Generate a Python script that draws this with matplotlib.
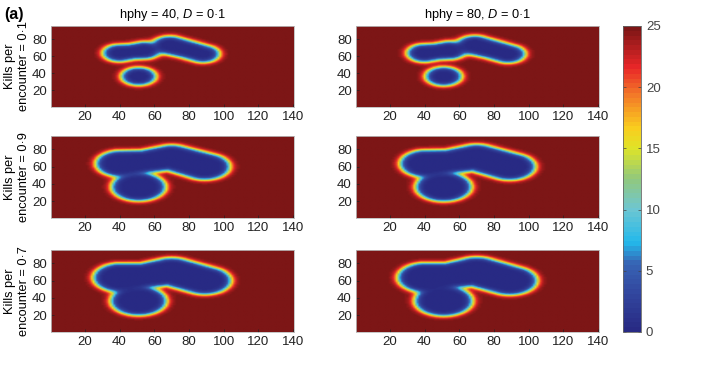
import numpy as np
import matplotlib
matplotlib.use("Agg")
import matplotlib.pyplot as plt
from matplotlib.colors import LinearSegmentedColormap

plt.rcParams['font.family'] = ['Liberation Sans', 'DejaVu Sans']
plt.rcParams['mathtext.fontset'] = 'custom'
plt.rcParams['mathtext.it'] = 'Liberation Sans:italic'
plt.rcParams['mathtext.rm'] = 'Liberation Sans'

# grid of the model domain
nx, ny = 140, 95
vmax = 25

col_titles = ['hphy = 40, $\\it{D}$ = 0·1', 'hphy = 80, $\\it{D}$ = 0·1']
row_labels = ['Kills per\nencounter = 0·1', 'Kills per\nencounter = 0·9', 'Kills per\nencounter = 0·7']
xticks = [20, 40, 60, 80, 100, 120, 140]
yticks = [20, 40, 60, 80]
cbar_ticks = [0, 5, 10, 15, 20, 25]

# depleted patches: chains of centre points, one radius per point
# row 1 (kills 0.1): three separate patches
r1_chains = [[(40, 63), (47, 64.5), (54, 66)],
             [(69, 72), (79, 67), (88, 62)],
             [(51, 36)]]
r1_radii_left = [[9.4, 8.6, 9.4], [10.0, 9.5, 9.4], [9.8]]
r1_radii_right = [[9.9, 9.1, 9.9], [10.5, 10.0, 9.9], [10.3]]

# rows 2 and 3 (kills 0.9, 0.7): one long patch above one round patch
big_chains = [[(41, 63.5), (55, 66), (70, 70.5), (89, 60)],
              [(51, 36.5)]]
r2_radii_left = [[14.5, 12.6, 13.8, 14.5], [15.5]]
r2_radii_right = [[15.0, 13.1, 14.5, 14.8], [16.0]]
r3_radii_left = [[16.0, 13.6, 15.2, 15.2], [16.0]]
r3_radii_right = [[16.4, 14.0, 16.0, 15.8], [16.6]]

panels = [
    [(r1_chains, r1_radii_left), (r1_chains, r1_radii_right)],
    [(big_chains, r2_radii_left), (big_chains, r2_radii_right)],
    [(big_chains, r3_radii_left), (big_chains, r3_radii_right)],
]

edge_width = 1.35
y_stretch = 1.05

X, Y = np.meshgrid(np.arange(1, nx + 1, dtype=float), np.arange(1, ny + 1, dtype=float))


def seg_dist(a, b, ra, rb):
    ax_, ay_ = a
    bx_, by_ = b
    dx, dy = bx_ - ax_, (by_ - ay_) / y_stretch
    Yp = (Y - ay_) / y_stretch
    L2 = dx * dx + dy * dy
    if L2 == 0:
        return np.hypot(X - ax_, Yp) - ra
    t = np.clip(((X - ax_) * dx + Yp * dy) / L2, 0, 1)
    return np.hypot(X - (ax_ + t * dx), Yp - t * dy) - (ra + t * (rb - ra))


def field(chains, radii):
    z = np.ones_like(X)
    for pts, rs in zip(chains, radii):
        if len(pts) == 1:
            s = seg_dist(pts[0], pts[0], rs[0], rs[0])
        else:
            s = np.min([seg_dist(pts[i], pts[i + 1], rs[i], rs[i + 1])
                        for i in range(len(pts) - 1)], axis=0)
        z *= 1 / (1 + np.exp(-s / edge_width))
    return vmax * z


cm_colors = [
    (0.00, (40, 42, 132)),
    (0.12, (50, 70, 158)),
    (0.22, (55, 100, 180)),
    (0.29, (35, 185, 235)),
    (0.40, (110, 198, 210)),
    (0.50, (145, 200, 125)),
    (0.60, (222, 228, 40)),
    (0.67, (250, 205, 30)),
    (0.78, (243, 120, 40)),
    (0.87, (232, 38, 40)),
    (1.00, (125, 22, 22)),
]
cmap = LinearSegmentedColormap.from_list(
    'wjet', [(p, tuple(c / 255 for c in rgb)) for p, rgb in cm_colors], N=64)

fig = plt.figure(figsize=(7.08, 3.76), dpi=100)

W, H = 708, 376
col_x = [51, 356]
ax_w = 243
rows_y = [(26, 107), (136, 218), (250, 332)]

for i in range(3):
    for j in range(2):
        top, bot = rows_y[i]
        ax = fig.add_axes([col_x[j] / W, 1 - bot / H, ax_w / W, (bot - top) / H])
        chains, radii = panels[i][j]
        Z = field(chains, radii)
        im = ax.imshow(Z, origin='lower', extent=(0.5, nx + 0.5, 0.5, ny + 0.5),
                       aspect='auto', cmap=cmap, vmin=0, vmax=vmax, interpolation='bilinear')
        ax.set_xticks(xticks)
        ax.set_yticks(yticks)
        ax.tick_params(direction='in', length=2, width=0.5, labelsize=9.5, pad=3, colors='#222222')
        for sp in ax.spines.values():
            sp.set_color('#bbbbbb')
            sp.set_linewidth(0.6)
        if i == 0:
            ax.set_title(col_titles[j], fontsize=9.2, pad=6)
        if j == 0:
            fig.text(17 / W, 1 - ((top + bot) / 2) / H, row_labels[i], rotation=90,
                     ha='center', va='center', fontsize=9.2, multialignment='center')

cax = fig.add_axes([623 / W, 1 - 332 / H, 18 / W, 306 / H])
cb = fig.colorbar(im, cax=cax, ticks=cbar_ticks)
cb.outline.set_edgecolor('#666666')
cb.outline.set_linewidth(0.6)
cax.yaxis.set_ticks_position('both')
cax.tick_params(direction='in', length=2, width=0.5, labelsize=9.5, colors='#444444',
                labelleft=False, labelright=True)

fig.text(4 / W, 1 - 14 / H, '(a)', fontsize=11.5, fontweight='bold', va='center', ha='left')

fig.savefig('out.png', dpi=100)
